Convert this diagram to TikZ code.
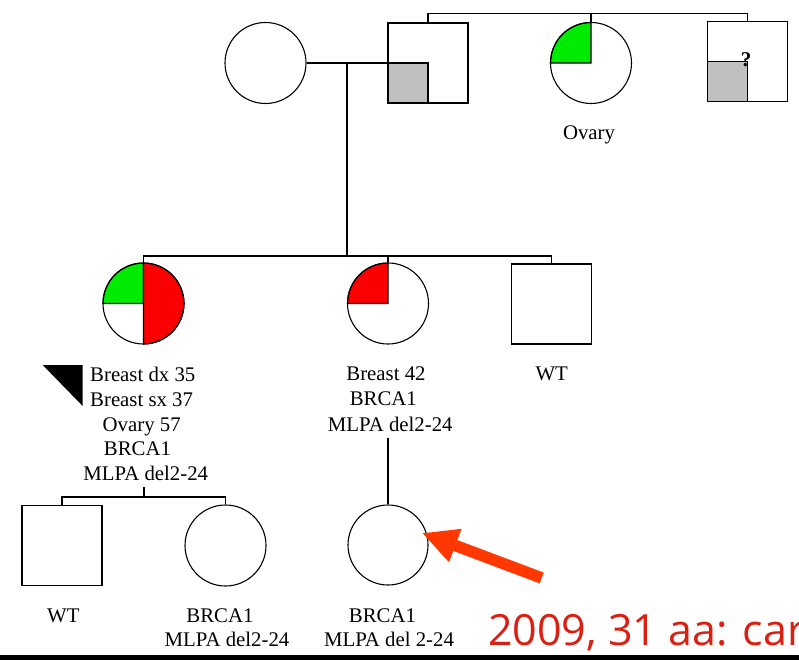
\documentclass[tikz,border=0pt]{standalone}
\usepackage{fontspec}
\setmainfont{Liberation Serif}
\newfontfamily\redfont{Open Sans}
\definecolor{pgreen}{RGB}{0,235,0}
\definecolor{pred}{RGB}{250,0,0}
\definecolor{pgray}{RGB}{192,192,192}
\definecolor{arrowcol}{RGB}{255,55,0}
\definecolor{notecol}{RGB}{218,32,18}
\begin{document}
\begin{tikzpicture}[x=1pt,y=1pt,
  female/.style={circle, draw, line width=1.1pt, inner sep=0pt, minimum size=81pt},
  male/.style={rectangle, draw, line width=1.5pt, inner sep=0pt, minimum size=80pt},
  pline/.style={line width=1.5pt},
  qfill/.style={line width=1.1pt, draw=black},
  lbl/.style={inner sep=0pt, anchor=base, font=\fontsize{20.8}{25}\selectfont},
  lbll/.style={lbl, anchor=base west}]
\useasboundingbox (0,0) rectangle (799,-660);

% centres
\coordinate (pc1) at (265.5,-63);
\coordinate (pc2) at (591,-63);
\coordinate (pcA) at (143.5,-303.5);
\coordinate (pcB) at (388,-303.5);
\coordinate (ps1) at (428,-63);
\coordinate (ps2) at (747.3,-61.5);

% quadrant fills
\filldraw[qfill, fill=pgray] (ps1) rectangle ++(-40,-40);
\filldraw[qfill, fill=pgray] (ps2) rectangle ++(-40,-40);
\filldraw[qfill, fill=pgreen] (pc2) -- ++(-40.5,0) arc[start angle=180, end angle=90, radius=40.5pt] -- cycle;
\filldraw[qfill, fill=pgreen] (pcA) -- ++(-40.5,0) arc[start angle=180, end angle=90, radius=40.5pt] -- cycle;
\filldraw[qfill, fill=pred] (pcA) -- ++(0,40.5) arc[start angle=90, end angle=-90, radius=40.5pt] -- cycle;
\filldraw[qfill, fill=pred] (pcB) -- ++(-40.5,0) arc[start angle=180, end angle=90, radius=40.5pt] -- cycle;

% individuals
\node[female] (c1) at (pc1) {};
\node[male] (s1) at (ps1) {};
\node[female] (c2) at (pc2) {};
\node[male] (s2) at (ps2) {};
\node[font=\fontsize{21}{21}\selectfont\bfseries, inner sep=0pt] (q) at (746,-60) {?};

\node[female] (cA) at (pcA) {};
\node[female] (cB) at (pcB) {};
\node[male] (sC) at (551.5,-304) {};

\node[male] (sD) at (62,-545.5) {};
\node[female] (cE) at (225.5,-545.5) {};
\node[female, minimum size=80pt] (cF) at (388,-545) {};

% helper coordinates
\coordinate (topbar) at (0,-13.3);
\coordinate (m1) at (347,-63);
\coordinate (sib2) at (0,-256);
\coordinate (adesc) at (144,-487);
\coordinate (sib3) at (0,-497);
\coordinate (bdesc) at (388,-438);

% connectors
\draw[pline] (c1.east) -- (s1.west);
\draw[pline] (s1.north) -- (s1.north |- topbar) -- (s2.north |- topbar) -- (s2.north);
\draw[pline] (c2.north) -- (c2.north |- topbar);
\draw[pline] (m1) -- (m1 |- sib2);
\draw[pline] (cA.north) -- (cA.north |- sib2) -- (sC.north |- sib2) -- (sC.north);
\draw[pline] (cB.north) -- (cB.north |- sib2);
\draw[pline] (adesc) -- (adesc |- sib3);
\draw[pline] (sD.north) -- (sD.north |- sib3) -- (cE.north |- sib3) -- (cE.north);
\draw[pline] (bdesc) -- (cF.north);

% labels
\node[lbl] (t0) at (589,-140) {Ovary};
\node[lbll] (tA1) at (90,-381) {Breast dx 35};
\node[lbll] (tA2) at (90,-406) {Breast sx 37};
\node[lbl] (tA3) at (141.7,-431) {Ovary 57};
\node[lbl] (tA4) at (137.5,-455) {BRCA1};
\node[lbl] (tA5) at (145.8,-480) {MLPA del2-24};
\node[lbl] (tB1) at (386,-380.7) {Breast 42};
\node[lbl] (tB2) at (383.3,-405.7) {BRCA1};
\node[lbl] (tB3) at (390.3,-431) {MLPA del2-24};
\node[lbl] (tC) at (551.7,-380.7) {WT};
\node[lbl] (tD) at (63.3,-622.7) {WT};
\node[lbl] (tE1) at (220,-622.7) {BRCA1};
\node[lbl] (tE2) at (227,-646.7) {MLPA del2-24};
\node[lbl] (tF1) at (382.5,-622.7) {BRCA1};
\node[lbl] (tF2) at (389,-646.7) {MLPA del 2-24};

% black triangle
\fill[black] (42.7,-365) -- (82.7,-365) -- (82.7,-406) -- cycle;

% red arrow
\fill[arrowcol] (543.7,-572.6) -- (457.3,-540.1) -- (461.6,-528.8) -- (422.7,-533.3)
  -- (449.0,-562.2) -- (453.3,-550.9) -- (539.7,-583.4) -- cycle;

% red note (clipped at the right edge)
\begin{scope}
\clip (0,0) rectangle (799,-660);
\node[inner sep=0pt, anchor=base west, text=notecol, font=\redfont\fontsize{43}{47}\selectfont] (note) at (488,-645) {2009, 31 aa: car};
\end{scope}

% bottom bar
\fill[black] (0,-655) rectangle (799,-660);
\end{tikzpicture}
\end{document}
